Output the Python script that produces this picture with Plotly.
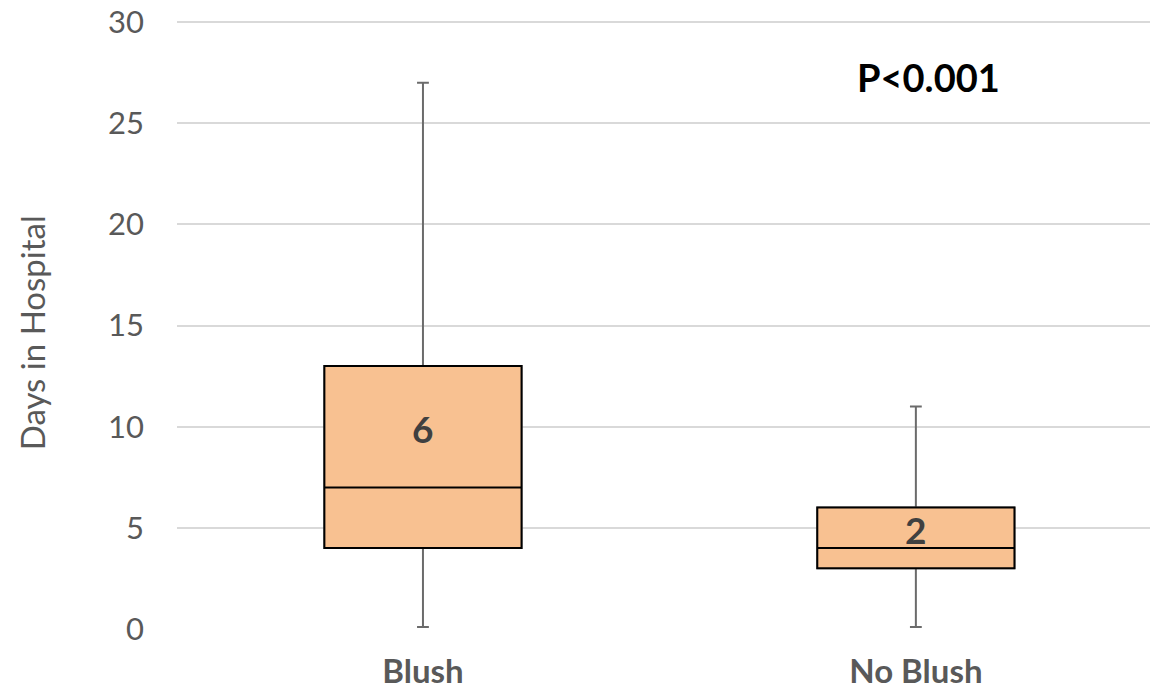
import plotly.graph_objects as go

categories = ["Blush", "No Blush"]
x_pos = [0, 1]
q1 = [4, 3]
median = [7, 4]
q3 = [13, 6]
lower = [0.1, 0.1]
upper = [27, 11]
box_labels = ["6", "2"]
label_y = [9.9, 4.9]

fill = "#F8C191"
fig = go.Figure()
# whiskers (gray)
fig.add_trace(go.Box(
    x=x_pos, q1=q1, median=median, q3=q3, lowerfence=lower, upperfence=upper,
    width=0.4, whiskerwidth=0.06, fillcolor=fill,
    line=dict(color="#6b6b6b", width=2), boxpoints=False, showlegend=False,
    hoverinfo="skip"))
# box (black outline)
fig.add_trace(go.Box(
    x=x_pos, q1=q1, median=median, q3=q3, lowerfence=q1, upperfence=q3,
    width=0.4, whiskerwidth=0, fillcolor=fill,
    line=dict(color="#000000", width=2), boxpoints=False, showlegend=False))

for xp, t, yy in zip(x_pos, box_labels, label_y):
    fig.add_annotation(x=xp, y=yy, text=f"<b>{t}</b>", showarrow=False,
                       font=dict(family="Lato", size=37, color="#404040"))

fig.add_annotation(x=1.025, y=27.3, text="<b>P<0.001</b>", showarrow=False,
                   font=dict(family="Lato", size=38, color="#000000"))

fig.add_annotation(xref="paper", yref="paper", x=(10 - 177) / 973, y=0.484,
                   text="Days in Hospital", textangle=-90, showarrow=False,
                   font=dict(family="Lato", size=33, color="#595959"))

fig.update_layout(
    width=1152, height=692, boxmode="overlay",
    margin=dict(l=177, r=2, t=18, b=61),
    paper_bgcolor="white", plot_bgcolor="white",
    xaxis=dict(range=[-0.499, 1.475], tickvals=x_pos, ticktext=[f"<b>{c}</b>" for c in categories],
               showgrid=False, zeroline=False, showline=False,
               tickfont=dict(family="Lato", size=33, color="#595959"),
               ticklabelstandoff=20),
    yaxis=dict(range=[0, 30.2], tickvals=[0, 5, 10, 15, 20, 25, 30], showgrid=True,
               gridcolor="#d9d9d9", gridwidth=2,
               zeroline=False, showline=False,
               tickfont=dict(family="Lato", size=31, color="#595959"),
               ticklabelstandoff=32),
)
fig.write_html("out.html", config={"displayModeBar": False},
               post_script="document.body.style.margin='0';document.body.style.overflow='hidden';")
